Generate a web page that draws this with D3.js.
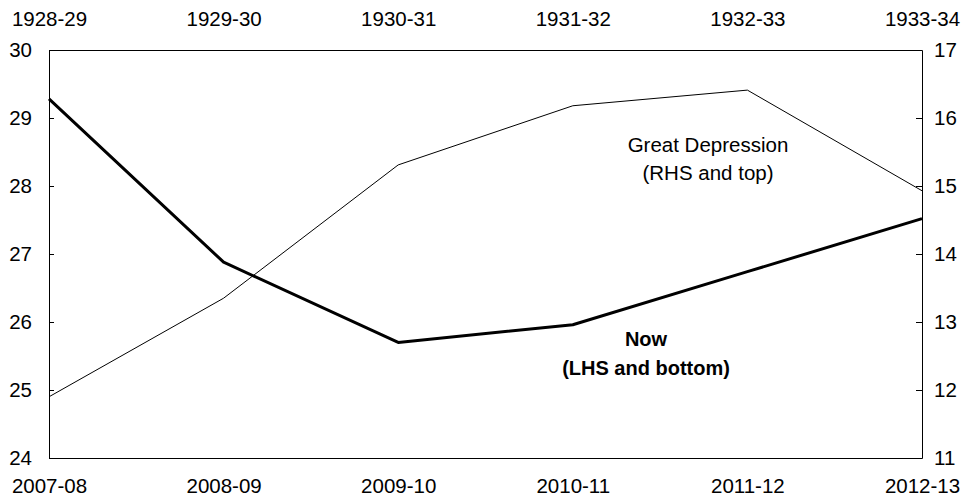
<!DOCTYPE html>
<html>
<head>
<meta charset="utf-8">
<script src="https://cdn.jsdelivr.net/npm/d3@7"></script>
<style>
  body { margin: 0; background: #fff; }
  svg { display: block; font-family: "Liberation Sans", Arial, sans-serif; }
  .axis text { font-size: 20.5px; fill: #000; }
  .axis path, .axis line { stroke: #000; }
</style>
</head>
<body>
<svg width="964" height="500"></svg>
<script>
// data
// ----------------------------------
var yearsNow = ['2007-08', '2008-09', '2009-10', '2010-11', '2011-12', '2012-13'];
var yearsThen = ['1928-29', '1929-30', '1930-31', '1931-32', '1932-33', '1933-34'];
var nowValues = [29.28, 26.88, 25.70, 25.96, 26.74, 27.52];    // LHS, bottom
var thenValues = [11.90, 13.35, 15.31, 16.18, 16.41, 14.93];   // RHS, top
var leftTicks = [24, 25, 26, 27, 28, 29, 30];
var rightTicks = [11, 12, 13, 14, 15, 16, 17];

// 0. frame + scales
// ----------------------------------
var svg = d3.select('svg');
var plotLeft = 49, plotRight = 922, plotTop = 50, plotBottom = 458;

var xNow = d3.scalePoint().domain(yearsNow).range([plotLeft, plotRight]);
var xThen = d3.scalePoint().domain(yearsThen).range([plotLeft, plotRight]);
var yL = d3.scaleLinear().domain([24, 30]).range([plotBottom, plotTop]);
var yR = d3.scaleLinear().domain([11, 17]).range([plotBottom, plotTop]);

// 1. axes
// ----------------------------------
svg.append('g').classed('axis', true)
    .attr('transform', 'translate(0,' + plotBottom + ')')
    .call(d3.axisBottom(xNow).tickSize(0).tickPadding(20.5));

svg.append('g').classed('axis', true)
    .attr('transform', 'translate(0,' + plotTop + ')')
    .call(d3.axisTop(xThen).tickSize(0).tickPadding(24));

svg.append('g').classed('axis', true)
    .attr('transform', 'translate(' + plotLeft + ',0)')
    .call(d3.axisLeft(yL).tickValues(leftTicks).tickFormat(d3.format('d'))
        .tickSizeInner(-5).tickSizeOuter(0).tickPadding(17));

svg.append('g').classed('axis', true)
    .attr('transform', 'translate(' + plotRight + ',0)')
    .call(d3.axisRight(yR).tickValues(rightTicks).tickFormat(d3.format('d'))
        .tickSizeInner(-6).tickSizeOuter(0).tickPadding(12));

// 2. lines
// ----------------------------------
var lineNow = d3.line()
    .x((d, i) => xNow(yearsNow[i]))
    .y(d => yL(d));

var lineThen = d3.line()
    .x((d, i) => xThen(yearsThen[i]))
    .y(d => yR(d));

svg.append('path')
    .datum(thenValues)
    .attr('d', lineThen)
    .style('fill', 'none')
    .style('stroke', '#000')
    .style('stroke-width', 1);

svg.append('path')
    .datum(nowValues)
    .attr('d', lineNow)
    .style('fill', 'none')
    .style('stroke', '#000')
    .style('stroke-width', 3)
    .style('stroke-linejoin', 'round');

// 3. labels
// ----------------------------------
var gd = svg.append('text')
    .attr('text-anchor', 'middle')
    .style('font-size', '20.5px');
gd.append('tspan').attr('x', 708).attr('y', 152).text('Great Depression');
gd.append('tspan').attr('x', 708).attr('y', 180).text('(RHS and top)');

var now = svg.append('text')
    .attr('text-anchor', 'middle')
    .style('font-size', '20px')
    .style('font-weight', 'bold');
now.append('tspan').attr('x', 646).attr('y', 346).text('Now');
now.append('tspan').attr('x', 646).attr('y', 375).text('(LHS and bottom)');
</script>
</body>
</html>
